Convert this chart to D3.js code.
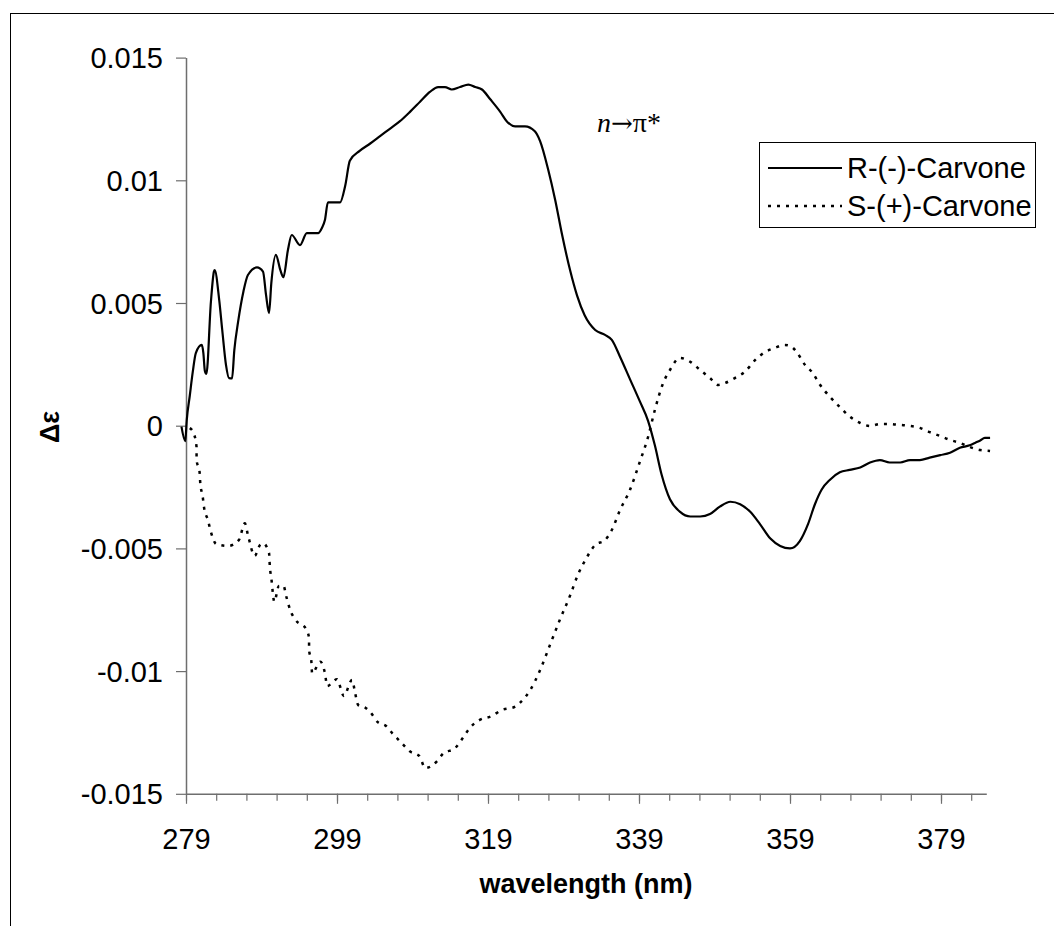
<!DOCTYPE html>
<html>
<head>
<meta charset="utf-8">
<script src="https://cdn.jsdelivr.net/npm/d3@7"></script>
<style>
  html, body { margin: 0; padding: 0; background: #fff; }
  svg { display: block; }
  text { font-family: "Liberation Sans", Arial, sans-serif; fill: #000; }
</style>
</head>
<body>
<svg id="chart" width="1054" height="926"></svg>
<script>
// ---- Data ----
const seriesNames = ["R-(-)-Carvone", "S-(+)-Carvone"];

const rWavelength = [278.4, 278.9, 279.1, 279.5, 279.9, 280.3, 281.1, 281.3, 281.5, 281.7, 282.3, 282.7, 282.8, 283.4, 283.8, 284.3, 284.7, 285.1, 285.4, 285.9, 286.6, 287.2, 288.4, 289.2, 289.6, 290.0, 290.3, 290.9, 291.5, 291.9, 292.5, 293.0, 294.1, 295.0, 296.5, 297.0, 297.4, 297.8, 299.4, 300.1, 300.7, 302.0, 303.4, 304.7, 306.0, 307.3, 308.7, 310.0, 311.3, 312.4, 313.3, 314.2, 315.3, 316.4, 317.3, 318.2, 319.3, 320.6, 321.5, 322.6, 323.9, 325.2, 325.9, 327.0, 327.9, 328.8, 329.9, 330.8, 331.8, 333.2, 334.5, 335.4, 336.5, 337.8, 339.1, 340.2, 341.1, 342.0, 343.1, 344.4, 345.8, 347.1, 348.4, 349.7, 351.1, 352.4, 353.7, 355.0, 356.4, 357.7, 359.0, 360.3, 361.4, 362.3, 363.2, 364.3, 365.6, 366.9, 368.3, 369.6, 370.9, 372.2, 373.6, 374.9, 376.2, 377.5, 378.9, 380.2, 381.5, 382.8, 383.5, 384.2, 384.8, 385.5];
const rValues = [-0.00004, -0.00063, 0.00023, 0.00122, 0.00220, 0.00296, 0.00329, 0.00296, 0.00223, 0.00211, 0.00505, 0.00628, 0.00634, 0.00512, 0.00390, 0.00247, 0.00194, 0.00193, 0.00308, 0.00423, 0.00546, 0.00614, 0.00645, 0.00628, 0.00533, 0.00459, 0.00581, 0.00696, 0.00634, 0.00605, 0.00716, 0.00777, 0.00736, 0.00785, 0.00785, 0.00806, 0.00838, 0.00910, 0.00910, 0.00980, 0.01080, 0.01120, 0.01150, 0.01180, 0.01210, 0.01240, 0.01280, 0.01320, 0.01360, 0.01380, 0.01380, 0.01370, 0.01380, 0.01390, 0.01380, 0.01370, 0.01330, 0.01280, 0.01240, 0.01220, 0.01220, 0.01200, 0.01160, 0.01040, 0.00920, 0.00780, 0.00630, 0.00530, 0.00450, 0.00390, 0.00370, 0.00350, 0.00280, 0.00190, 0.00100, 0.00020, -0.00080, -0.00200, -0.00300, -0.00350, -0.00370, -0.00370, -0.00360, -0.00330, -0.00310, -0.00320, -0.00350, -0.00400, -0.00460, -0.00490, -0.00500, -0.00470, -0.00400, -0.00320, -0.00260, -0.00220, -0.00190, -0.00180, -0.00170, -0.00150, -0.00140, -0.00150, -0.00150, -0.00140, -0.00140, -0.00130, -0.00120, -0.00110, -0.00090, -0.00080, -0.00070, -0.00060, -0.00050, -0.00050];

const sWavelength = [279.5, 280.0, 280.4, 280.4, 280.8, 280.9, 281.2, 281.4, 281.9, 282.3, 283.0, 284.6, 286.0, 286.8, 287.2, 288.1, 288.8, 289.2, 290.0, 290.1, 290.3, 290.7, 291.3, 291.9, 292.3, 292.8, 293.5, 294.9, 295.3, 295.3, 295.6, 295.7, 296.8, 297.4, 297.7, 299.0, 299.3, 299.9, 301.0, 301.4, 301.8, 302.8, 303.4, 304.4, 305.5, 306.4, 307.6, 308.7, 309.9, 310.7, 312.2, 313.1, 314.6, 315.7, 316.6, 317.9, 319.5, 320.8, 322.6, 323.2, 324.6, 325.9, 327.2, 328.5, 329.9, 330.9, 331.9, 333.2, 334.5, 335.4, 336.5, 337.8, 339.1, 340.2, 341.1, 342.1, 343.1, 344.4, 345.8, 347.1, 348.4, 349.5, 350.4, 351.7, 353.0, 354.4, 355.7, 357.0, 358.3, 359.0, 359.9, 361.0, 361.9, 363.0, 364.3, 365.6, 367.0, 368.3, 369.6, 370.9, 372.2, 373.6, 374.9, 376.2, 377.5, 378.9, 380.2, 381.5, 382.8, 384.2, 385.5];
const sValues = [-0.00010, -0.00030, -0.00087, -0.00140, -0.00189, -0.00238, -0.00286, -0.00335, -0.00384, -0.00433, -0.00482, -0.00490, -0.00466, -0.00398, -0.00445, -0.00530, -0.00486, -0.00479, -0.00519, -0.00572, -0.00621, -0.00717, -0.00653, -0.00652, -0.00698, -0.00751, -0.00791, -0.00828, -0.00864, -0.00914, -0.00959, -0.01009, -0.00962, -0.01008, -0.01061, -0.01033, -0.01053, -0.01101, -0.01036, -0.01089, -0.01138, -0.01150, -0.01167, -0.01208, -0.01224, -0.01256, -0.01294, -0.01328, -0.01346, -0.01395, -0.01369, -0.01335, -0.01315, -0.01271, -0.01231, -0.01199, -0.01183, -0.01159, -0.01145, -0.01130, -0.01077, -0.00996, -0.00894, -0.00792, -0.00690, -0.00608, -0.00547, -0.00486, -0.00466, -0.00425, -0.00343, -0.00262, -0.00148, -0.00046, 0.00064, 0.00166, 0.00227, 0.00276, 0.00260, 0.00227, 0.00194, 0.00166, 0.00174, 0.00194, 0.00219, 0.00268, 0.00300, 0.00317, 0.00329, 0.00325, 0.00300, 0.00247, 0.00219, 0.00166, 0.00117, 0.00076, 0.00035, 0.00011, -0.00001, 0.00007, 0.00007, 0.00003, -0.00001, -0.00009, -0.00026, -0.00042, -0.00058, -0.00070, -0.00087, -0.00099, -0.00103];

const xMajorTicks = [279, 299, 319, 339, 359, 379];
const xMinorTicks = d3.range(279, 386, 4);
const yTicks = [-0.015, -0.01, -0.005, 0, 0.005, 0.01, 0.015];
const xTitle = "wavelength (nm)";
const yTitle = "Δε";

// ---- Drawing ----
const svg = d3.select("#chart");
const axisColor = "#6e6e6e";

// outer chart frame (only left and top edges are visible)
svg.append("rect")
  .attr("x", 10.5).attr("y", 13.5)
  .attr("width", 1200).attr("height", 1000)
  .attr("fill", "none").attr("stroke", "#000").attr("stroke-width", 1);

const x = d3.scaleLinear().domain([279, 385]).range([186, 986.3]);
const y = d3.scaleLinear().domain([-0.015, 0.015]).range([793.8, 57.6]);

// x axis minor ticks
const xMinor = svg.append("g")
  .attr("transform", `translate(0,${y(-0.015)})`)
  .call(d3.axisBottom(x).tickValues(xMinorTicks).tickSize(7).tickFormat(""));
xMinor.select(".domain").remove();
xMinor.selectAll("line").attr("stroke", axisColor).attr("stroke-width", 1.2);

// x axis major
const xAxis = svg.append("g")
  .attr("transform", `translate(0,${y(-0.015)})`)
  .call(d3.axisBottom(x).tickValues(xMajorTicks).tickSize(10).tickSizeOuter(0).tickFormat(d3.format("d")));
xAxis.select(".domain").attr("stroke", axisColor).attr("stroke-width", 1.5);
xAxis.selectAll("line").attr("stroke", axisColor).attr("stroke-width", 1.2);
xAxis.selectAll("text")
  .attr("y", 55).attr("dy", 0)
  .style("font-size", "29px").style("font-family", "'Liberation Sans', Arial, sans-serif").attr("fill", "#000");

// y axis
const fmt = d => String(+d.toFixed(3));
const yAxis = svg.append("g")
  .attr("transform", `translate(${x(279)},0)`)
  .call(d3.axisLeft(y).tickValues(yTicks).tickSize(10).tickSizeOuter(0).tickPadding(13).tickFormat(fmt));
yAxis.select(".domain").attr("stroke", axisColor).attr("stroke-width", 1.5);
yAxis.selectAll("line").attr("stroke", axisColor).attr("stroke-width", 1.2);
yAxis.selectAll("text")
  .attr("dy", "0.35em")
  .style("font-size", "29px").style("font-family", "'Liberation Sans', Arial, sans-serif").attr("fill", "#000");

// axis titles
svg.append("text")
  .attr("x", 586).attr("y", 893)
  .attr("text-anchor", "middle")
  .style("font-size", "27px").style("font-weight", "bold")
  .text(xTitle);

svg.append("text")
  .attr("transform", "translate(59,427) rotate(-90)")
  .attr("text-anchor", "middle")
  .style("font-size", "27px").style("font-weight", "bold")
  .text(yTitle);

// series
const line = d3.line()
  .x(d => x(d[0]))
  .y(d => y(d[1]))
  .curve(d3.curveMonotoneX);

const rData = rWavelength.map((w, i) => [w, rValues[i]]);
const sData = sWavelength.map((w, i) => [w, sValues[i]]);

svg.append("path")
  .datum(sData)
  .attr("d", line)
  .attr("fill", "none")
  .attr("stroke", "#000")
  .attr("stroke-width", 2.5)
  .attr("stroke-dasharray", "3,6");

svg.append("path")
  .datum(rData)
  .attr("d", line)
  .attr("fill", "none")
  .attr("stroke", "#000")
  .attr("stroke-width", 2.2)
  .attr("stroke-linejoin", "round");

// annotation n→π*
const ann = svg.append("text")
  .attr("x", 597).attr("y", 132)
  .style("font-family", "'Liberation Serif', 'Times New Roman', serif")
  .style("font-size", "28px");
ann.append("tspan").style("font-style", "italic").text("n");
ann.append("tspan").style("font-family", "'DejaVu Serif', serif").style("font-size", "26px").text("→");
ann.append("tspan").text("π*");

// legend
const legend = svg.append("g");
legend.append("rect")
  .attr("x", 759.5).attr("y", 142.5)
  .attr("width", 276).attr("height", 85)
  .attr("fill", "#fff").attr("stroke", "#000").attr("stroke-width", 1);

const legRows = [
  { name: seriesNames[0], cy: 168, dash: null, w: 2.2 },
  { name: seriesNames[1], cy: 206, dash: "3,6", w: 2.5 }
];
legRows.forEach(r => {
  legend.append("line")
    .attr("x1", 768).attr("x2", 842)
    .attr("y1", r.cy).attr("y2", r.cy)
    .attr("stroke", "#000").attr("stroke-width", r.w)
    .attr("stroke-dasharray", r.dash);
  legend.append("text")
    .attr("x", 847).attr("y", r.cy + 10)
    .style("font-size", "29px")
    .text(r.name);
});
</script>
</body>
</html>
